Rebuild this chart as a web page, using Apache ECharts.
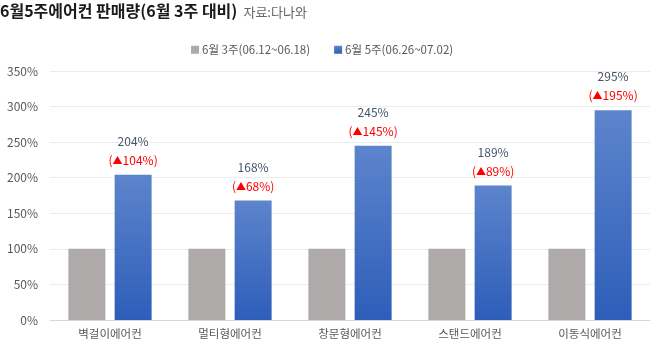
<!DOCTYPE html>
<html>
<head>
<meta charset="utf-8">
<script src="https://cdn.jsdelivr.net/npm/echarts@6/dist/echarts.min.js"></script>
<style>
  html, body { margin: 0; padding: 0; background: #fff; }
  #chart { width: 660px; height: 353px; }
</style>
</head>
<body>
<div id="chart"></div>
<script>
const categories = ['벽걸이에어컨', '멀티형에어컨', '창문형에어컨', '스탠드에어컨', '이동식에어컨']
const week3Values = [100, 100, 100, 100, 100]
const week5Values = [204, 168, 245, 189, 295]
const changeValues = [104, 68, 145, 89, 195]
const yTicks = [0, 50, 100, 150, 200, 250, 300, 350]

const FONT = '"Noto Sans CJK KR", "Noto Sans", sans-serif'

const chart = echarts.init(document.getElementById('chart'))

const option = {
  animation: false,
  textStyle: { fontFamily: FONT },
  title: {
    text: '{t|6월5주에어컨 판매량(6월 3주 대비)} {s|자료:다나와}',
    left: 0,
    top: 0,
    padding: [2, 0, 0, 0],
    textStyle: {
      fontWeight: 'normal',
      rich: {
        t: { fontSize: 16, fontWeight: 'bold', color: '#1a1a1a', fontFamily: FONT, letterSpacing: -0.6 },
        s: { fontSize: 13, fontWeight: 'normal', color: '#666', fontFamily: FONT, padding: [3, 0, 0, 2] },
      },
    },
  },
  legend: {
    top: 39,
    left: 186,
    itemWidth: 8,
    itemHeight: 8,
    itemGap: 24,
    icon: 'rect',
    textStyle: { fontSize: 11.5, color: '#595959', fontFamily: FONT, padding: [0, 0, 0, -2] },
    data: ['6월 3주(06.12~06.18)', '6월 5주(06.26~07.02)'],
  },
  grid: { left: 50, right: 10, top: 71, bottom: 33 },
  xAxis: {
    type: 'category',
    data: categories,
    axisTick: { show: false },
    axisLine: { lineStyle: { color: '#d9d9d9' } },
    axisLabel: { color: '#595959', fontSize: 11.5, margin: 8 },
  },
  yAxis: {
    type: 'value',
    min: yTicks[0],
    max: yTicks[yTicks.length - 1],
    interval: 50,
    axisLabel: { formatter: '{value}%', color: '#595959', fontSize: 12, margin: 12 },
    splitLine: { lineStyle: { color: '#ececec' } },
  },
  series: [
    {
      name: '6월 3주(06.12~06.18)',
      type: 'bar',
      data: week3Values,
      barWidth: 37,
      barGap: '25%',
      itemStyle: { color: '#aeaaaa' },
    },
    {
      name: '6월 5주(06.26~07.02)',
      type: 'bar',
      data: week5Values,
      barWidth: 37,
      itemStyle: {
        color: new echarts.graphic.LinearGradient(0, 0, 0, 1, [
          { offset: 0, color: '#5d84cc' },
          { offset: 1, color: '#2e5eb9' },
        ]),
      },
      label: {
        show: true,
        position: 'top',
        distance: 5,
        formatter: (p) => '{v|' + p.value + '%}\n{c|(}{a|▲}{c|' + changeValues[p.dataIndex] + '%)}',
        rich: {
          v: { fontSize: 12, color: '#44546a', lineHeight: 19, fontFamily: FONT },
          c: { fontSize: 12, color: '#ff0000', lineHeight: 19, fontFamily: FONT },
          a: { fontSize: 10, color: '#ff0000', lineHeight: 19, fontFamily: FONT },
        },
      },
    },
  ],
}

chart.setOption(option)
</script>
</body>
</html>
